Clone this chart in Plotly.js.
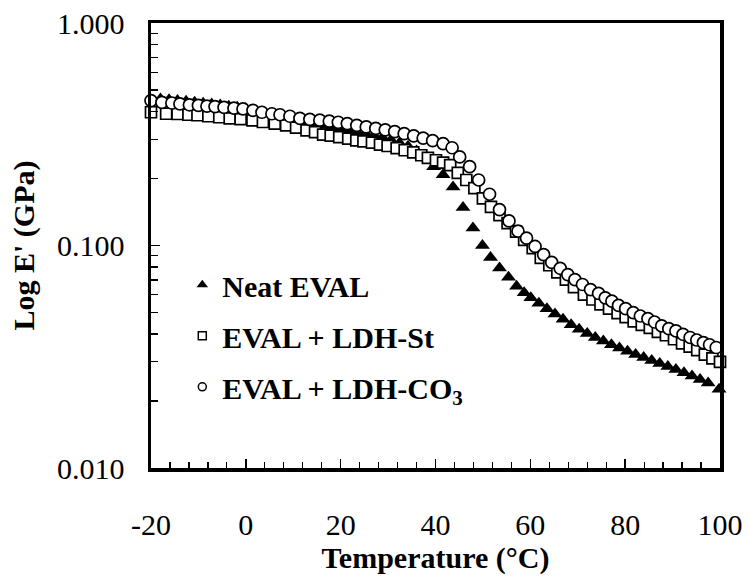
<!DOCTYPE html>
<html>
<head>
<meta charset="utf-8">
<script src="https://cdn.plot.ly/plotly-3.0.1.min.js"></script>
<style>
html,body{margin:0;padding:0;background:#fff;}
#chart{width:750px;height:582px;}
</style>
</head>
<body>
<div id="chart"></div>
<script>
// Series names
const seriesNames = ["Neat EVAL", "EVAL + LDH-St", "EVAL + LDH-CO<sub>3</sub>"];

// Neat EVAL (filled triangles)
const neatT = [-18.0,-16.2,-14.4,-12.6,-10.8,-9.0,-7.2,-5.4,-3.6,-1.8,0.0,1.8,3.6,5.4,7.2,9.0,10.8,12.6,14.4,16.2,18.0,19.8,21.6,23.4,25.2,27.0,28.8,30.6,32.4,34.2,36.0,37.8,39.6,41.6,43.7,45.8,47.9,49.9,51.6,53.5,55.4,57.1,58.7,60.1,61.8,63.5,65.2,66.9,68.6,70.3,72.0,73.7,75.4,77.1,78.8,80.5,82.2,83.9,85.6,87.3,89.0,90.7,92.4,94.1,95.8,97.5,99.8];
const neatE = [0.455,0.452,0.448,0.445,0.440,0.436,0.432,0.428,0.423,0.418,0.412,0.405,0.397,0.389,0.381,0.374,0.367,0.360,0.353,0.346,0.340,0.334,0.329,0.324,0.319,0.313,0.306,0.298,0.289,0.279,0.266,0.248,0.226,0.208,0.183,0.148,0.120,0.100,0.0884,0.0793,0.0720,0.0656,0.0613,0.0582,0.0550,0.0520,0.0492,0.0466,0.0440,0.0420,0.0402,0.0386,0.0372,0.0358,0.0346,0.0335,0.0324,0.0314,0.0304,0.0295,0.0286,0.0277,0.0268,0.0259,0.0250,0.0241,0.0226];

// EVAL + LDH-St (open squares)
const stT = [-20.0,-16.8,-14.4,-12.1,-10.2,-7.9,-5.6,-3.4,-1.1,1.4,3.6,6.1,8.5,10.6,12.8,14.6,16.3,17.9,19.7,21.6,23.3,24.8,26.6,28.3,29.9,31.8,33.5,35.3,37.0,38.4,40.1,41.6,43.1,44.7,46.5,48.2,50.0,51.7,53.5,55.2,57.0,58.7,60.5,62.2,64.0,65.7,67.5,69.2,71.3,73.1,74.8,76.6,78.4,80.1,81.8,83.5,85.2,86.9,88.6,90.3,92.0,93.6,95.2,96.8,98.4,100.0];
const stE = [0.397,0.391,0.390,0.387,0.385,0.381,0.377,0.373,0.370,0.365,0.359,0.353,0.347,0.339,0.329,0.323,0.315,0.312,0.307,0.302,0.297,0.294,0.290,0.284,0.280,0.274,0.268,0.262,0.2545,0.2475,0.2416,0.236,0.2296,0.212,0.197,0.181,0.163,0.149,0.137,0.126,0.1155,0.106,0.0974,0.0880,0.0815,0.0757,0.0703,0.0650,0.0602,0.0572,0.0544,0.0520,0.0497,0.0477,0.0456,0.0440,0.0426,0.0409,0.0395,0.0379,0.0363,0.0351,0.0339,0.0323,0.0311,0.0300];

// EVAL + LDH-CO3 (open circles)
const coT = [-20.0,-17.7,-15.6,-13.9,-11.9,-10.0,-8.2,-6.5,-4.6,-2.5,-0.6,1.5,3.4,5.5,7.2,9.3,11.4,13.5,15.6,17.6,19.5,21.4,23.4,25.4,27.4,29.4,31.4,33.4,35.4,37.4,39.4,41.6,43.5,45.1,47.2,49.1,51.4,53.5,55.5,57.4,59.2,61.0,62.8,64.5,66.3,67.9,69.4,71.0,72.7,74.4,75.8,77.2,78.6,80.1,81.7,83.2,84.8,86.2,87.7,89.2,90.7,92.2,93.7,95.1,96.5,97.8,99.2];
const coE = [0.448,0.440,0.437,0.433,0.429,0.426,0.423,0.421,0.418,0.414,0.411,0.405,0.397,0.391,0.387,0.381,0.373,0.369,0.366,0.362,0.358,0.353,0.347,0.341,0.336,0.331,0.325,0.318,0.311,0.304,0.296,0.287,0.275,0.250,0.226,0.197,0.170,0.145,0.129,0.116,0.108,0.099,0.091,0.084,0.079,0.074,0.0703,0.0668,0.0634,0.0609,0.0582,0.0562,0.0538,0.0520,0.0499,0.0482,0.0469,0.0453,0.0435,0.0423,0.0413,0.0399,0.0386,0.0376,0.0366,0.0358,0.0348];

// Axis ticks
const xTickVals = [-20, 0, 20, 40, 60, 80, 100];
const xTickText = ["-20", "0", "20", "40", "60", "80", "100"];
const yTickVals = [0.01, 0.1, 1];
const yTickText = ["0.010", "0.100", "1.000"];
const yMinorVals = [0.02,0.03,0.04,0.05,0.06,0.07,0.08,0.09,0.2,0.3,0.4,0.5,0.6,0.7,0.8,0.9];

const serif = "Liberation Serif, Times New Roman, serif";

const traces = [
  {x: neatT, y: neatE, type: 'scatter', mode: 'markers', showlegend: false, cliponaxis: false,
   marker: {symbol: 'triangle-up', size: 13, color: '#000', line: {width: 0}}},
  {x: stT, y: stE, type: 'scatter', mode: 'markers', showlegend: false, cliponaxis: false,
   marker: {symbol: 'square', size: 11, color: '#fff', line: {color: '#000', width: 1.7}}},
  {x: coT, y: coE, type: 'scatter', mode: 'markers', showlegend: false, cliponaxis: false,
   marker: {symbol: 'circle', size: 12, color: '#fff', line: {color: '#000', width: 1.7}}},
  // legend entries
  {x: [null], y: [null], type: 'scatter', mode: 'markers', name: '<b>' + seriesNames[0] + '</b>', legendgroup: 'a',
   marker: {symbol: 'triangle-up', size: 10, color: '#000', line: {width: 0}}},
  {x: [null], y: [null], type: 'scatter', mode: 'markers', name: '<b>' + seriesNames[1] + '</b>', legendgroup: 'b',
   marker: {symbol: 'square', size: 8, color: '#fff', line: {color: '#000', width: 1.5}}},
  {x: [null], y: [null], type: 'scatter', mode: 'markers', name: '<b>' + seriesNames[2] + '</b>', legendgroup: 'c',
   marker: {symbol: 'circle', size: 8, color: '#fff', line: {color: '#000', width: 1.5}}}
];

const layout = {
  width: 750, height: 582,
  margin: {l: 151, r: 30, t: 23, b: 114},
  paper_bgcolor: '#fff', plot_bgcolor: '#fff',
  font: {family: serif, color: '#000', size: 30},
  showlegend: true,
  legend: {
    x: 0.055, y: 0.47, xanchor: 'left', yanchor: 'top',
    bgcolor: 'rgba(0,0,0,0)', borderwidth: 0,
    font: {family: serif, size: 30, color: '#000'},
    traceorder: 'grouped', tracegroupgap: 9
  },
  xaxis: {
    range: [-20, 100], tickmode: 'array', tickvals: xTickVals, ticktext: xTickText,
    ticks: 'inside', ticklen: 9, tickwidth: 1.5, tickcolor: '#000',
    minor: {dtick: 4, tick0: -20, ticks: 'inside', ticklen: 6, tickwidth: 1.2, tickcolor: '#000', showgrid: false},
    showline: true, linecolor: '#000', linewidth: 3.5, mirror: true,
    showgrid: false, zeroline: false,
    tickfont: {family: serif, size: 30, color: '#000'},
    ticklabelstandoff: 27,
    title: {text: '<b>Temperature (°C)</b>', font: {family: serif, size: 30, color: '#000'}, standoff: 8}
  },
  yaxis: {
    type: 'log', range: [-2, 0], tickmode: 'array', tickvals: yTickVals, ticktext: yTickText,
    ticks: 'inside', ticklen: 9, tickwidth: 1.5, tickcolor: '#000',
    minor: {tickvals: yMinorVals, ticks: 'inside', ticklen: 7, tickwidth: 1.2, tickcolor: '#000', showgrid: false},
    showline: true, linecolor: '#000', linewidth: 3.5, mirror: true,
    showgrid: false, zeroline: false,
    tickfont: {family: serif, size: 30, color: '#000'},
    ticklabelstandoff: 17,
    title: {text: "<b>Log E' (GPa)</b>", font: {family: serif, size: 30, color: '#000'}, standoff: 14}
  }
};

Plotly.newPlot('chart', traces, layout, {displayModeBar: false, staticPlot: true});
</script>
</body>
</html>
